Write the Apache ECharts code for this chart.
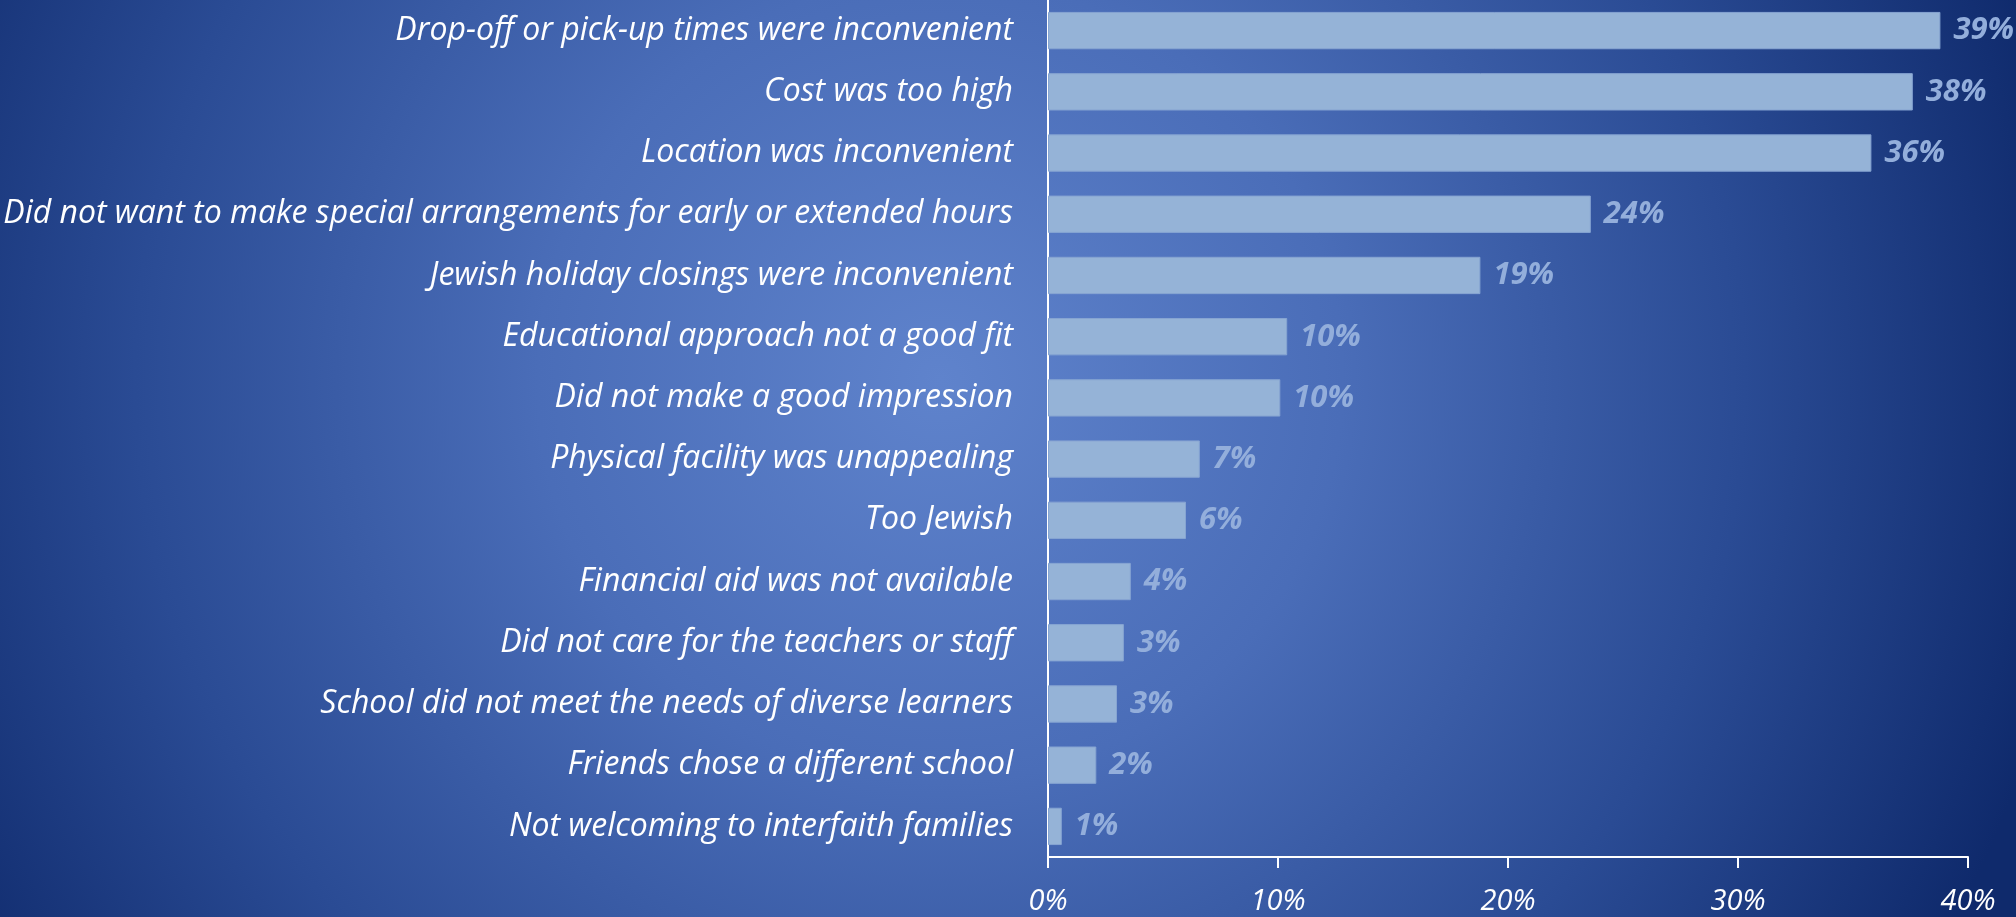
<!DOCTYPE html>
<html>
<head>
<meta charset="utf-8">
<script src="https://cdn.jsdelivr.net/npm/echarts@6/dist/echarts.min.js"></script>
<style>
html,body{margin:0;padding:0;width:2016px;height:917px;overflow:hidden;}
#chart{width:2016px;height:917px;}
</style>
</head>
<body>
<div id="chart"></div>
<script>
const categories = [
  "Drop-off or pick-up times were inconvenient",
  "Cost was too high",
  "Location was inconvenient",
  "Did not want to make special arrangements for early or extended hours",
  "Jewish holiday closings were inconvenient",
  "Educational approach not a good fit",
  "Did not make a good impression",
  "Physical facility was unappealing",
  "Too Jewish",
  "Financial aid was not available",
  "Did not care for the teachers or staff",
  "School did not meet the needs of diverse learners",
  "Friends chose a different school",
  "Not welcoming to interfaith families"
];
const values = [38.8, 37.6, 35.8, 23.6, 18.8, 10.4, 10.1, 6.6, 6.0, 3.6, 3.3, 3.0, 2.1, 0.6];
const xTicks = [0, 10, 20, 30, 40];

const chart = echarts.init(document.getElementById('chart'));
const font = '"Open Sans", "Noto Sans", sans-serif';
chart.setOption({
  animation: false,
  backgroundColor: {
    type: 'radial', x: 940, y: 380, r: 1150, global: true,
    colorStops: [
      {offset: 0, color: '#5f83cc'},
      {offset: 0.35, color: '#4a6db8'},
      {offset: 0.7, color: '#2a4b94'},
      {offset: 1, color: '#0f2a6c'}
    ]
  },
  grid: {left: 1048, right: 48, top: -2, bottom: 60, containLabel: false},
  xAxis: {
    type: 'value', min: xTicks[0], max: xTicks[xTicks.length - 1], interval: 10,
    axisLine: {show: true, lineStyle: {color: '#ffffff', width: 2}},
    axisTick: {show: true, length: 11, lineStyle: {color: '#ffffff', width: 2}},
    splitLine: {show: false},
    axisLabel: {
      color: '#ffffff', fontStyle: 'italic', fontFamily: font, fontSize: 29, margin: 30,
      formatter: v => v + '%'
    }
  },
  yAxis: {
    type: 'category', data: categories, inverse: true,
    axisLine: {show: true, lineStyle: {color: '#ffffff', width: 2}},
    axisTick: {show: false},
    axisLabel: {
      color: '#ffffff', fontStyle: 'italic', fontFamily: font, fontSize: 32, margin: 35
    }
  },
  series: [{
    type: 'bar', data: values, barCategoryGap: '39%',
    itemStyle: {color: '#95b3d7', borderColor: '#86a4d2', borderWidth: 1},
    label: {
      show: true, position: 'right', distance: 13,
      color: '#93aedb', fontStyle: 'italic', fontWeight: 'bold', fontFamily: font, fontSize: 31,
      formatter: p => Math.round(p.value) + '%'
    }
  }]
});
</script>
</body>
</html>
